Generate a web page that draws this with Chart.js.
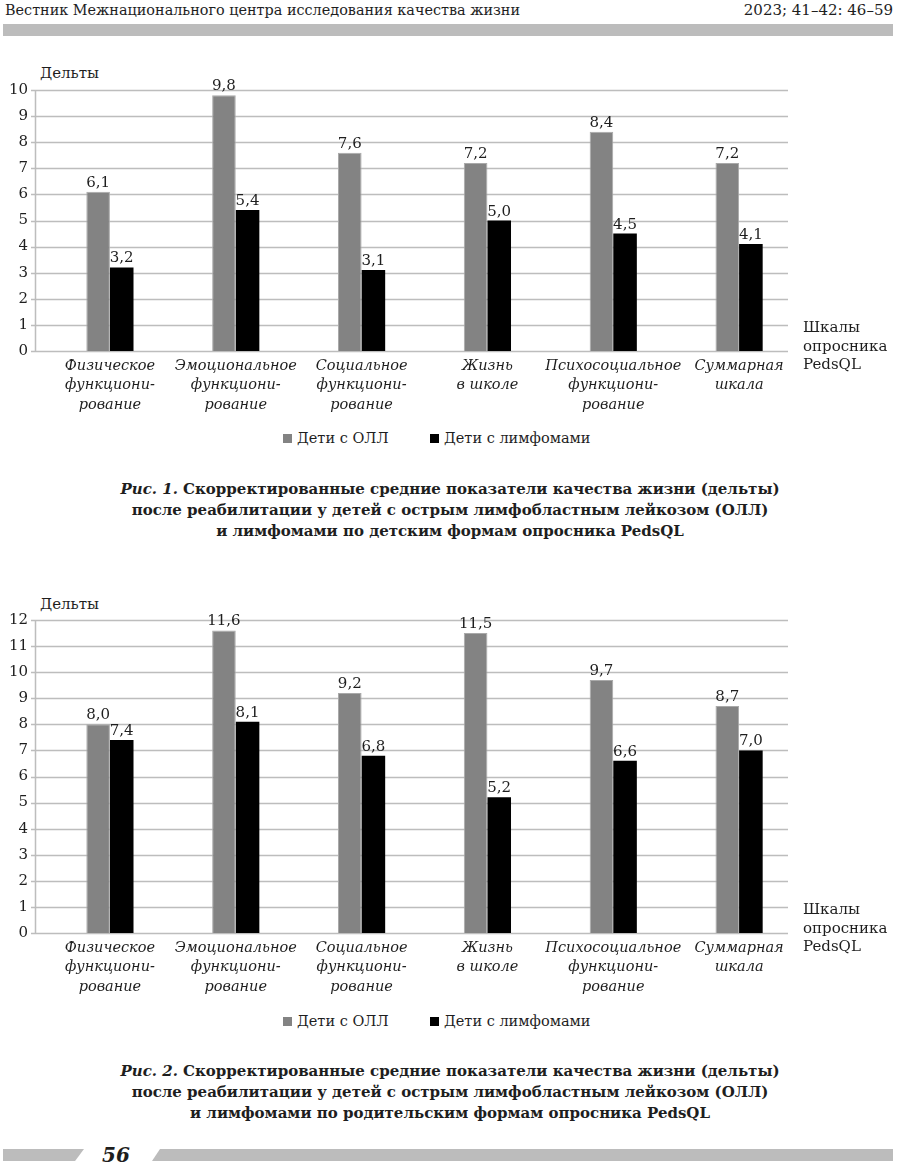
<!DOCTYPE html>
<html>
<head>
<meta charset="utf-8">
<script src="https://cdn.jsdelivr.net/npm/chart.js@4"></script>
<style>
  body { margin: 0; background: #fff; }
  #page { position: relative; width: 900px; height: 1172px; font-family: "DejaVu Serif", serif; color: #1e1e1e; }
  .abs { position: absolute; white-space: nowrap; }
  .bar { position: absolute; background: #bcbcbc; }
  .legend-box { position: absolute; width: 9px; height: 9px; }
  .legend-text { position: absolute; font-size: 14.5px; line-height: 20px; }
  .caption { position: absolute; left: 0; width: 900px; text-align: center; font-weight: bold; font-size: 15px; line-height: 21px; }
  .side { position: absolute; font-size: 15px; line-height: 18.5px; }
  canvas { position: absolute; left: 0; }
</style>
</head>
<body>
<div id="page">
  <div class="abs" style="left:5px; top:0px; font-size:14.4px; line-height:20px;">Вестник Межнационального центра исследования качества жизни</div>
  <div class="abs" style="right:7px; top:0px; font-size:15px; line-height:20px;">2023; 41–42: 46–59</div>
  <div class="bar" style="left:3px; top:24px; width:890px; height:12px;"></div>

  <div class="abs" style="left:40px; top:64px; font-size:15px;">Дельты</div>
  <canvas id="chart1" width="900" height="360" style="top:60px;"></canvas>
  <div class="side" style="left:803px; top:318px;">Шкалы<br>опросника<br>PedsQL</div>
  <div id="legend1"></div>
  <div class="caption" style="top:479px;"><i>Рис. 1.</i> Скорректированные средние показатели качества жизни (дельты)<br>после реабилитации у детей с острым лимфобластным лейкозом (ОЛЛ)<br>и лимфомами по детским формам опросника PedsQL</div>

  <div class="abs" style="left:40px; top:595px; font-size:15px;">Дельты</div>
  <canvas id="chart2" width="900" height="412" style="top:590px;"></canvas>
  <div class="side" style="left:803px; top:900px;">Шкалы<br>опросника<br>PedsQL</div>
  <div id="legend2"></div>
  <div class="caption" style="top:1061px;"><i>Рис. 2.</i> Скорректированные средние показатели качества жизни (дельты)<br>после реабилитации у детей с острым лимфобластным лейкозом (ОЛЛ)<br>и лимфомами по родительским формам опросника PedsQL</div>

  <div class="bar" style="left:3px; top:1149px; width:81px; height:12px; clip-path:polygon(0 0,100% 0,89% 100%,0 100%);"></div>
  <div class="abs" style="left:102px; top:1143px; font-size:20px; font-weight:bold; font-style:italic;">56</div>
  <div class="bar" style="left:152px; top:1149px; width:741px; height:12px; clip-path:polygon(8px 0,100% 0,100% 100%,0 100%);"></div>
</div>

<script>
// categories (x axis, multi-line)
const categories = [
  ['Физическое', 'функциони-', 'рование'],
  ['Эмоциональное', 'функциони-', 'рование'],
  ['Социальное', 'функциони-', 'рование'],
  ['Жизнь', 'в школе'],
  ['Психосоциальное', 'функциони-', 'рование'],
  ['Суммарная', 'шкала']
];
const seriesNames = ['Дети с ОЛЛ', 'Дети с лимфомами'];
const seriesColors = ['#838383', '#000000'];

// Рис. 1 — детские формы
const childAll = [6.1, 9.8, 7.6, 7.2, 8.4, 7.2];
const childLymph = [3.2, 5.4, 3.1, 5.0, 4.5, 4.1];
const yMax1 = 10;

// Рис. 2 — родительские формы
const parentAll = [8.0, 11.6, 9.2, 11.5, 9.7, 8.7];
const parentLymph = [7.4, 8.1, 6.8, 5.2, 6.6, 7.0];
const yMax2 = 12;

const serif = '"DejaVu Serif", serif';

// horizontal grid lines drawn from the y scale, spanning the original plot frame
const gridPlugin = {
  id: 'gridFrame',
  beforeDatasetsDraw(chart) {
    const ctx = chart.ctx;
    const y = chart.scales.y;
    const left = 35, right = 788;
    ctx.save();
    ctx.strokeStyle = '#bdbdbd';
    ctx.lineWidth = 1.5;
    y.ticks.forEach(t => {
      const py = Math.round(y.getPixelForValue(t.value)) + 0.5;
      ctx.beginPath();
      ctx.moveTo(left - 4, py);
      ctx.lineTo(right, py);
      ctx.stroke();
    });
    ctx.beginPath();
    ctx.moveTo(left + 0.5, y.getPixelForValue(y.max));
    ctx.lineTo(left + 0.5, y.getPixelForValue(0));
    ctx.stroke();
    ctx.restore();
  }
};

// value labels above bars, decimal comma
const valuePlugin = {
  id: 'values',
  afterDatasetsDraw(chart) {
    const ctx = chart.ctx;
    ctx.save();
    ctx.font = '15px ' + serif;
    ctx.fillStyle = '#1e1e1e';
    ctx.textAlign = 'center';
    ctx.textBaseline = 'alphabetic';
    chart.data.datasets.forEach((ds, i) => {
      chart.getDatasetMeta(i).data.forEach((bar, j) => {
        const txt = ds.data[j].toFixed(1).replace('.', ',');
        ctx.fillText(txt, bar.x, bar.y - 5);
      });
    });
    ctx.restore();
  }
};

function makeChart(id, a, b, yMax, xHeight) {
  return new Chart(document.getElementById(id), {
    type: 'bar',
    data: {
      labels: categories,
      datasets: [
        { label: seriesNames[0], data: a, backgroundColor: seriesColors[0], borderColor: '#a9a9a9', borderWidth: 1 },
        { label: seriesNames[1], data: b, backgroundColor: seriesColors[1], borderColor: '#000', borderWidth: 0 }
      ]
    },
    options: {
      responsive: false,
      animation: false,
      events: [],
      barPercentage: 1,
      categoryPercentage: 0.375,
      layout: { padding: { top: 30, right: 98, left: 0, bottom: 0 } },
      plugins: { legend: { display: false }, tooltip: { enabled: false } },
      scales: {
        x: {
          grid: { display: false, drawTicks: false },
          border: { display: false },
          ticks: {
            color: '#1e1e1e',
            font: { family: serif, size: 14.5, style: 'italic', lineHeight: 1.32 },
            padding: 6,
            maxRotation: 0,
            autoSkip: false
          },
          afterFit: s => { s.height = xHeight; }
        },
        y: {
          min: 0,
          max: yMax,
          grid: { display: false, drawTicks: false },
          border: { display: false },
          ticks: {
            stepSize: 1,
            color: '#1e1e1e',
            font: { family: serif, size: 15 },
            padding: 19
          },
          afterFit: s => { s.width = 47; }
        }
      }
    },
    plugins: [gridPlugin, valuePlugin]
  });
}

makeChart('chart1', childAll, childLymph, yMax1, 69);
makeChart('chart2', parentAll, parentLymph, yMax2, 69);

// legends under each chart
function makeLegend(id, cy) {
  const el = document.getElementById(id);
  const xs = [283, 430];
  seriesNames.forEach((name, i) => {
    const box = document.createElement('div');
    box.className = 'legend-box';
    box.style.left = xs[i] + 'px';
    box.style.top = (cy - 4) + 'px';
    box.style.background = seriesColors[i];
    el.appendChild(box);
    const t = document.createElement('div');
    t.className = 'legend-text';
    t.style.left = (xs[i] + 14) + 'px';
    t.style.top = (cy - 10) + 'px';
    t.textContent = name;
    el.appendChild(t);
  });
}
makeLegend('legend1', 438);
makeLegend('legend2', 1021);
</script>
</body>
</html>
